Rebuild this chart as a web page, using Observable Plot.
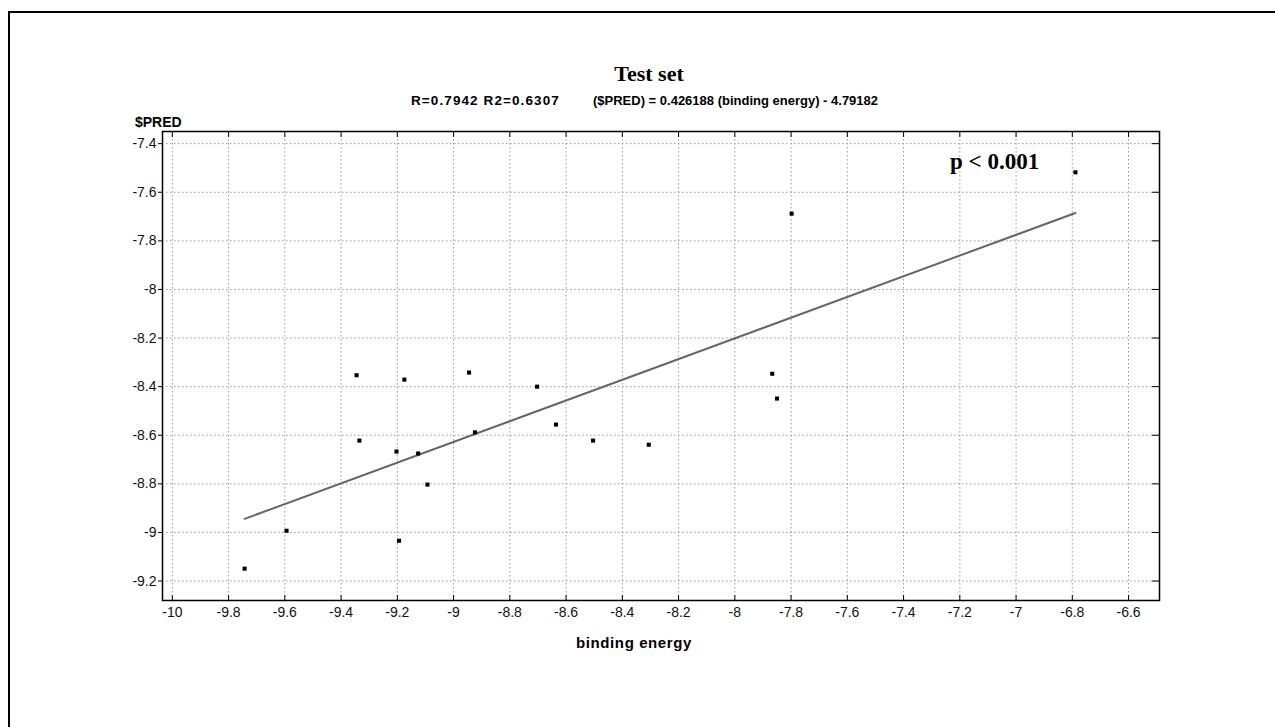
<!DOCTYPE html>
<html><head><meta charset="utf-8">
<script src="https://cdn.jsdelivr.net/npm/d3@7"></script>
<script src="https://cdn.jsdelivr.net/npm/@observablehq/plot@0.6"></script>
<style>
body{margin:0;background:#fff;}
#wrap{position:relative;width:1275px;height:727px;overflow:hidden;background:#fff;}
#chart{position:absolute;left:0;top:0;}
.lbl{position:absolute;white-space:pre;color:#000;line-height:1;}
.sans{font-family:Arial,'Liberation Sans',sans-serif;font-weight:bold;}
.serif{font-family:'Times New Roman','Liberation Serif',serif;font-weight:bold;}
</style></head><body>
<div id="wrap">
  <div style="position:absolute;left:8px;top:11px;width:1300px;height:800px;border-top:2px solid #000;border-left:2px solid #000;"></div>
  <div id="chart"></div>
  <div id="title" class="lbl serif" style="left:449px;width:400px;text-align:center;top:63px;font-size:22px"></div>
  <div id="sub1" class="lbl sans" style="left:411px;top:94px;font-size:13.5px;letter-spacing:1.1px"></div>
  <div id="sub2" class="lbl sans" style="left:593px;top:94px;font-size:13px"></div>
  <div id="ylab" class="lbl sans" style="left:135px;top:115px;font-size:14px"></div>
  <div id="xlab" class="lbl sans" style="left:434px;width:400px;text-align:center;top:635px;font-size:15px;letter-spacing:0.6px"></div>
  <div id="pval" class="lbl serif" style="left:950px;top:150px;font-size:23px"></div>
</div>
<script>
const titleText = "Test set";
const subtitleStats = "R=0.7942 R2=0.6307";
const subtitleEquation = "($PRED) = 0.426188 (binding energy) - 4.79182";
const yLabel = "$PRED";
const xLabel = "binding energy";
const pText = "p < 0.001";

const xValues = [-9.743, -9.594, -9.345, -9.335, -9.175, -9.203, -9.194, -9.126, -9.093, -8.945, -8.924, -8.703, -8.636, -8.504, -8.306, -7.867, -7.850, -7.798, -6.789];
const yValues = [-9.149, -8.993, -8.353, -8.622, -8.371, -8.667, -9.034, -8.675, -8.803, -8.342, -8.588, -8.400, -8.556, -8.622, -8.639, -8.347, -8.449, -7.688, -7.518];
const xTicks = [-10, -9.8, -9.6, -9.4, -9.2, -9, -8.8, -8.6, -8.4, -8.2, -8, -7.8, -7.6, -7.4, -7.2, -7, -6.8, -6.6];
const yTicks = [-9.2, -9, -8.8, -8.6, -8.4, -8.2, -8, -7.8, -7.6, -7.4];
const slope = 0.426188;
const intercept = -4.79182;

document.getElementById("title").textContent = titleText;
document.getElementById("sub1").textContent = subtitleStats;
document.getElementById("sub2").textContent = subtitleEquation;
document.getElementById("ylab").textContent = yLabel;
document.getElementById("xlab").textContent = xLabel;
document.getElementById("pval").textContent = pText;

const points = xValues.map((x, i) => ({x, y: yValues[i]}));
const fit = d3.extent(xValues).map(x => ({x, y: slope * x + intercept}));
const fmt = d => String(d);
const blank = () => "";
const gridStyle = {stroke: "#999", strokeOpacity: 1, strokeWidth: 1, strokeDasharray: "1.5,2.5"};

const chart = Plot.plot({
  width: 1275, height: 727,
  marginLeft: 162, marginRight: 116, marginTop: 131, marginBottom: 127,
  x: {domain: [-10.035, -6.49]},
  y: {domain: [-9.28, -7.35]},
  style: {fontFamily: "Arial, 'Liberation Sans', sans-serif", fontSize: "14px", color: "#111", background: "transparent", overflow: "visible"},
  marks: [
    Plot.gridX(xTicks, gridStyle),
    Plot.gridY(yTicks, gridStyle),
    Plot.axisX(xTicks, {anchor: "bottom", tickSize: 0, tickPadding: 7, tickFormat: fmt, label: null, fontSize: 14}),
    Plot.axisX(xTicks, {anchor: "bottom", tickSize: -5, tickFormat: blank, label: null, stroke: "#000"}),
    Plot.axisX(xTicks, {anchor: "top", tickSize: -5, tickFormat: blank, label: null, stroke: "#000"}),
    Plot.axisY(yTicks, {anchor: "left", tickSize: 4, tickPadding: 2, tickFormat: fmt, label: null, fontSize: 14, stroke: "#000"}),
    Plot.axisY(yTicks, {anchor: "right", tickSize: -8, tickFormat: blank, label: null, stroke: "#000"}),
    Plot.frame({stroke: "#000", strokeWidth: 1.5}),
    Plot.line(fit, {x: "x", y: "y", stroke: "#666", strokeWidth: 2}),
    Plot.dot(points, {x: "x", y: "y", symbol: "square", r: 2.3, fill: "#000", stroke: "none"})
  ]
});
document.getElementById("chart").appendChild(chart);
</script>
</body></html>
